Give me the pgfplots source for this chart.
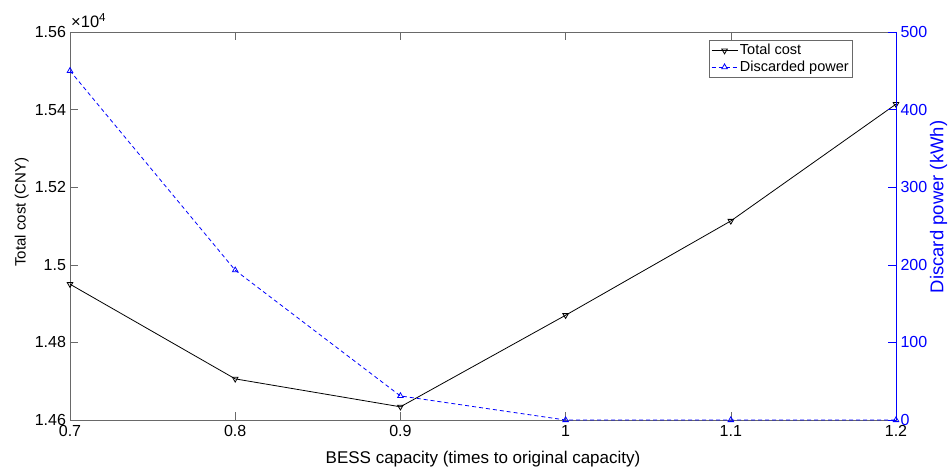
\documentclass[border=0pt]{standalone}
\usepackage{fontspec}
\setmainfont{Liberation Sans}
\usepackage{pgfplots}
\pgfplotsset{compat=1.18}
\definecolor{axgray}{RGB}{105,105,105}
\definecolor{mblue}{RGB}{0,0,255}
\begin{document}
\fontsize{13}{15}\selectfont
\begin{tikzpicture}
\pgfplotsset{
  base/.style={
    width=826pt, height=388pt, scale only axis,
    xmin=0.7, xmax=1.2, clip=false,
    scaled y ticks=false, scaled x ticks=false,
    /pgf/number format/assume math mode=true,
    tick label style={font=\fontsize{16}{18}\selectfont},
    tick align=inside, major tick length=8pt,
    tick style={line width=0.6pt},
    axis line style={line width=0.8pt},
  },
  legend image code/.code={\draw[mark repeat=2,mark phase=2] plot coordinates {(0pt,0pt) (13pt,0pt) (26pt,0pt)};},
}
\begin{axis}[base,
  ymin=14600, ymax=15600,
  ytick={14600,14800,15000,15200,15400,15600},
  yticklabels={1.46,1.48,1.5,1.52,1.54,1.56},
  xtick={0.7,0.8,0.9,1,1.1,1.2},
  xticklabels={0.7,0.8,0.9,1,1.1,1.2},
  xtick pos=both, ytick pos=left,
  axis line style={axgray, line width=0.8pt},
  tick style={axgray, line width=0.6pt},
  xticklabel style={yshift=-0.5pt},
  yticklabel style={xshift=0.5pt},
  xlabel={BESS capacity (times to original capacity)},
  xlabel style={font=\fontsize{17}{19}\selectfont, at={(axis description cs:0.5,-0.1005)}, anchor=center},
  ylabel={Total cost (CNY)},
  ylabel style={font=\fontsize{15}{17}\selectfont, at={(axis description cs:-0.0585,0.536)}, anchor=center, rotate=0},
]
\addplot[black, line width=0.8pt, mark=triangle, mark size=3.2pt, mark options={rotate=180, solid}]
  coordinates {(0.7,14950) (0.8,14706) (0.9,14634) (1.0,14870) (1.1,15113) (1.2,15414)};
\node[anchor=base west, inner sep=0pt, font=\fontsize{16.5}{18}\selectfont] at (rel axis cs:0,1) [xshift=1pt, yshift=4pt] {×10\textsuperscript{4}};
\end{axis}
\begin{axis}[base,
  axis x line=none, axis y line*=right,
  ymin=0, ymax=500,
  ytick={0,100,200,300,400,500},
  y axis line style={mblue, line width=0.8pt},
  ytick style={mblue, line width=0.6pt},
  yticklabel style={mblue},
  ylabel={Discard power (kWh)},
  ylabel style={mblue, font=\fontsize{18.5}{20}\selectfont, at={(axis description cs:1.0515,0.549)}, anchor=center, rotate=0},
  legend style={at={(rel axis cs:0.948,0.979)}, anchor=north east, draw=axgray, line width=0.6pt,
    font=\fontsize{14.5}{16}\selectfont, inner sep=2pt, row sep=0pt,
    /tikz/every even column/.append style={column sep=2pt}},
  legend cell align=left,
]
\addlegendimage{black, line width=0.8pt, mark=triangle, mark size=3.2pt, mark options={rotate=180, solid}}
\addlegendentry{Total cost}
\addplot[mblue, line width=0.8pt, dash pattern=on 4pt off 3pt, mark=triangle, mark size=3.2pt, mark options={solid}]
  coordinates {(0.7,450) (0.8,193) (0.9,31) (1.0,0) (1.1,0) (1.2,0)};
\addlegendentry{Discarded power}
\end{axis}
\pgfresetboundingbox
\path[use as bounding box] (-70pt,-51pt) rectangle (879pt,420pt);
\end{tikzpicture}
\end{document}
